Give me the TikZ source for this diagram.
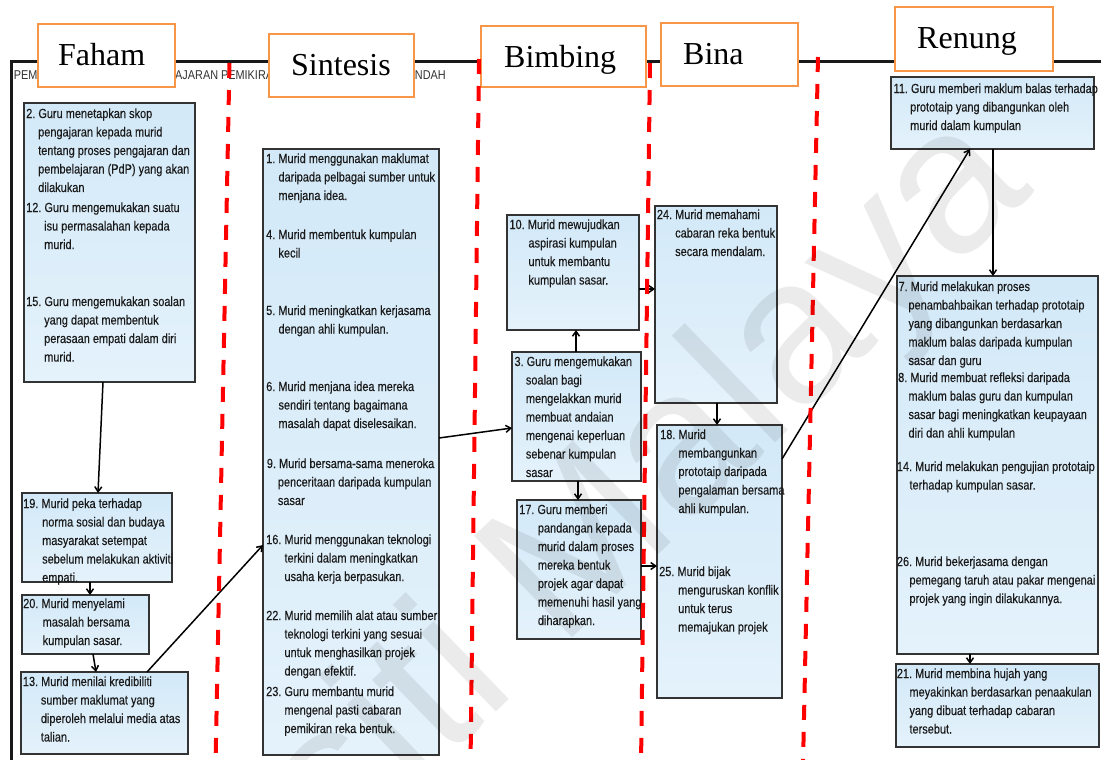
\documentclass[tikz,border=0pt]{standalone}
\usepackage{fontspec}
\usepackage{array}
\newfontfamily\bodyf[FakeStretch=0.83,FakeBold=0.3]{Liberation Sans}
\newfontfamily\titlef[FakeStretch=0.85]{Liberation Sans}
\newfontfamily\wmf{Liberation Sans}
\newfontfamily\labf{Liberation Serif}
\usetikzlibrary{calc,arrows.meta,shadows}

\definecolor{boxline}{HTML}{333333}
\definecolor{boxtop}{HTML}{D3E9F8}
\definecolor{boxbot}{HTML}{E4F2FB}
\definecolor{labedge}{HTML}{F79646}
\definecolor{txt}{HTML}{1A1A1A}
\definecolor{dashred}{HTML}{FF0000}

% numbered item: "N. first line", the following lines hang at a fixed indent
\newlength\itmhang
\newcommand\itm[4]{\setlength\itmhang{#2pt}%
  \begin{tabular}[t]{@{}>{\hspace*{\itmhang}}l@{}}\multicolumn{1}{@{}l@{}}{#1\ #3}\\#4\end{tabular}}

\begin{document}
\begin{tikzpicture}[x=1pt,y=-1pt,
  cbox/.style={draw=boxline, line width=1.4pt, top color=boxtop, bottom color=boxbot,
    inner sep=0pt, outer sep=0pt, anchor=north west,
    drop shadow={shadow xshift=1.4pt, shadow yshift=-1.4pt, opacity=0.45}},
  itext/.style={anchor=base west, inner sep=0pt, text=txt,
    font=\bodyf\fontsize{13.2}{18.5}\selectfont},
  ttl/.style={anchor=base west, inner sep=0pt, text=black!80,
    font=\titlef\fontsize{12.8}{14}\selectfont},
  lab/.style={draw=labedge, line width=2.4pt, fill=white, inner sep=0pt,
    outer sep=0pt, anchor=north west},
  labtxt/.style={anchor=base west, inner sep=0pt, font=\labf\fontsize{32}{36}\selectfont},
  conn/.style={draw=black, line width=1.5pt, -{Straight Barb[length=5pt,width=7pt]}},
  rdash/.style={draw=dashred, line width=4pt, dash pattern=on 15pt off 12pt},
  frame/.style={draw=black!90, line width=3pt},
  wm/.style={anchor=base west, inner sep=0pt, rotate=44, text=black, text opacity=0.08,
    font=\wmf\fontsize{205}{215}\selectfont}]

\useasboundingbox (0,0) rectangle (1101,760);
\clip (0,0) rectangle (1101,760);
\fill[white] (0,0) rectangle (1101,760);

% outer frame of the map
\draw[frame] (1110,62) -- (11,62) -- (11,770);

% title strip
\node[ttl] (ttlA) at (13.6,80) {PEM};
\node[ttl] (ttlB) at (175,80) {AJARAN PEMIKIRAN};
\node[ttl, anchor=base east] (ttlC) at (446,80) {ENDAH};

% phase labels
\node[lab, minimum width=137pt, minimum height=63pt] (lFaham) at (38,24) {};
\node[labtxt] (tFaham) at (58,66) {Faham};
\node[lab, minimum width=145pt, minimum height=63pt] (lSintesis) at (269,34) {};
\node[labtxt] (tSintesis) at (291,76) {Sintesis};
\node[lab, minimum width=165pt, minimum height=61pt] (lBimbing) at (481,26) {};
\node[labtxt] (tBimbing) at (504,67) {Bimbing};
\node[lab, minimum width=137pt, minimum height=63pt] (lBina) at (661,23) {};
\node[labtxt] (tBina) at (683,65) {Bina};
\node[lab, minimum width=158pt, minimum height=64pt] (lRenung) at (895,7) {};
\node[labtxt] (tRenung) at (917,49) {Renung};

% step boxes
\node[cbox, minimum width=171pt, minimum height=279pt] (A) at (24,103) {};
\node[cbox, minimum width=150pt, minimum height=89pt]  (B) at (22,493) {};
\node[cbox, minimum width=127pt, minimum height=59pt]  (C) at (22,595) {};
\node[cbox, minimum width=167pt, minimum height=82pt]  (D) at (21,672) {};
\node[cbox, minimum width=176pt, minimum height=606pt] (E) at (263,149) {};
\node[cbox, minimum width=132pt, minimum height=115pt] (F) at (507,215) {};
\node[cbox, minimum width=129pt, minimum height=129pt] (G) at (512,352) {};
\node[cbox, minimum width=124pt, minimum height=139pt] (J) at (517,500) {};
\node[cbox, minimum width=122pt, minimum height=197pt] (H) at (655,206) {};
\node[cbox, minimum width=125pt, minimum height=273pt] (I) at (657,425) {};
\node[cbox, minimum width=203pt, minimum height=72pt]  (K) at (891,77) {};
\node[cbox, minimum width=201pt, minimum height=378pt] (L) at (897,276) {};
\node[cbox, minimum width=203pt, minimum height=83pt]  (M) at (896,664) {};

% Faham
\node[itext] (s2) at (26,118) {\itm{2.}{12}{Guru menetapkan skop}{pengajaran kepada murid\\tentang proses pengajaran dan\\pembelajaran (PdP) yang akan\\dilakukan}};
\node[itext] (s12) at (26,212) {\itm{12.}{18}{Guru mengemukakan suatu}{isu permasalahan kepada\\murid.}};
\node[itext] (s15) at (26,306) {\itm{15.}{18}{Guru mengemukakan soalan}{yang dapat membentuk\\perasaan empati dalam diri\\murid.}};
\node[itext] (s19) at (23,508) {\itm{19.}{19}{Murid peka terhadap}{norma sosial dan budaya\\masyarakat setempat\\sebelum melakukan aktiviti\\empati.}};
\node[itext] (s20) at (23,608) {\itm{20.}{19.5}{Murid menyelami}{masalah bersama\\kumpulan sasar.}};
\node[itext] (s13) at (22.7,686) {\itm{13.}{18}{Murid menilai kredibiliti}{sumber maklumat yang\\diperoleh melalui media atas\\talian.}};

% Sintesis
\node[itext] (s1) at (266,163) {\itm{1.}{12.3}{Murid menggunakan maklumat}{daripada pelbagai sumber untuk\\menjana idea.}};
\node[itext] (s4) at (266,239) {\itm{4.}{12.3}{Murid membentuk kumpulan}{kecil}};
\node[itext] (s5) at (266,315) {\itm{5.}{12.3}{Murid meningkatkan kerjasama}{dengan ahli kumpulan.}};
\node[itext] (s6) at (266,391) {\itm{6.}{12.3}{Murid menjana idea mereka}{sendiri tentang bagaimana\\masalah dapat diselesaikan.}};
\node[itext] (s9) at (266.7,468) {\itm{9.}{11}{Murid bersama-sama meneroka}{penceritaan daripada kumpulan\\sasar}};
\node[itext] (s16) at (266,544) {\itm{16.}{18.3}{Murid menggunakan teknologi}{terkini dalam meningkatkan\\usaha kerja berpasukan.}};
\node[itext] (s22) at (266,620) {\itm{22.}{18.3}{Murid memilih alat atau sumber}{teknologi terkini yang sesuai\\untuk menghasilkan projek\\dengan efektif.}};
\node[itext] (s23) at (266,696) {\itm{23.}{18.3}{Guru membantu murid}{mengenal pasti cabaran\\pemikiran reka bentuk.}};

% Bimbing
\node[itext] (s10) at (509.3,229) {\itm{10.}{19}{Murid mewujudkan}{aspirasi kumpulan\\untuk membantu\\kumpulan sasar.}};
\node[itext] (s3) at (514.3,366) {\itm{3.}{11.4}{Guru mengemukakan}{soalan bagi\\mengelakkan murid\\membuat andaian\\mengenai keperluan\\sebenar kumpulan\\sasar}};
\node[itext] (s17) at (519,514) {\itm{17.}{18.7}{Guru memberi}{pandangan kepada\\murid dalam proses\\mereka bentuk\\projek agar dapat\\memenuhi hasil yang\\diharapkan.}};

% Bina
\node[itext] (s24) at (656.7,219) {\itm{24.}{18.3}{Murid memahami}{cabaran reka bentuk\\secara mendalam.}};
\node[itext] (s18) at (660,439) {\itm{18.}{18.3}{Murid}{membangunkan\\prototaip daripada\\pengalaman bersama\\ahli kumpulan.}};
\node[itext] (s25) at (659,576) {\itm{25.}{19}{Murid bijak}{menguruskan konflik\\untuk terus\\memajukan projek}};

% Renung
\node[itext] (s11) at (893.3,93) {\itm{11.}{16.7}{Guru memberi maklum balas terhadap}{prototaip yang dibangunkan oleh\\murid dalam kumpulan}};
\node[itext] (s7) at (898.3,291) {\itm{7.}{10}{Murid melakukan proses}{penambahbaikan terhadap prototaip\\yang dibangunkan berdasarkan\\maklum balas daripada kumpulan\\sasar dan guru}};
\node[itext] (s8) at (898,382) {\itm{8.}{10.3}{Murid membuat refleksi daripada}{maklum balas guru dan kumpulan\\sasar bagi meningkatkan keupayaan\\diri dan ahli kumpulan}};
\node[itext] (s14) at (896.7,471) {\itm{14.}{12.6}{Murid melakukan pengujian prototaip}{terhadap kumpulan sasar.}};
\node[itext] (s26) at (896.7,566) {\itm{26.}{12.6}{Murid bekerjasama dengan}{pemegang taruh atau pakar mengenai\\projek yang ingin dilakukannya.}};
\node[itext] (s21) at (896.7,678) {\itm{21.}{12.6}{Murid membina hujah yang}{meyakinkan berdasarkan penaakulan\\yang dibuat terhadap cabaran\\tersebut.}};

% connectors
\draw[conn] ($(A.south west)+(79,0)$) -- ($(B.north west)+(76,0)$);
\draw[conn] ($(B.south west)+(68,0)$) -- ($(C.north west)+(68,0)$);
\draw[conn] ($(C.south west)+(71,0)$) -- ($(D.north west)+(75,0)$);
\draw[conn] ($(D.north west)+(126,0)$) -- ($(E.north west)+(0,396)$);
\draw[conn] ($(E.north east)+(0,289)$) -- ($(G.north west)+(0,76)$);
\draw[conn] ($(G.north west)+(64,0)$) -- ($(F.south west)+(69,0)$);
\draw[conn] ($(G.south west)+(66,0)$) -- ($(J.north west)+(61,0)$);
\draw[conn] ($(F.north east)+(0,74)$) -- ($(H.north west)+(0,83)$);
\draw[conn] ($(J.north east)+(0,66)$) -- ($(I.north west)+(0,141)$);
\draw[conn] ($(H.south west)+(62,0)$) -- ($(I.north west)+(60,0)$);
\draw[conn] ($(I.north east)+(0,34)$) -- ($(K.south west)+(79,0)$);
\draw[conn] ($(K.south west)+(102,0)$) -- ($(L.north west)+(96,0)$);
\draw[conn] ($(L.south west)+(73,0)$) -- ($(M.north west)+(74,0)$);

% phase dividers
\coordinate (r1t) at (229.5,63);  \coordinate (r1b) at (215.5,765);
\coordinate (r2t) at (479,59);    \coordinate (r2b) at (470.5,765);
\coordinate (r3t) at (650,63);    \coordinate (r3b) at (641,765);
\coordinate (r4t) at (818,57);    \coordinate (r4b) at (803,765);
\draw[rdash] (r1t) -- (r1b);
\draw[rdash] (r2t) -- (r2b);
\draw[rdash] (r3t) -- (r3b);
\draw[rdash] (r4t) -- (r4b);

% repository watermark
\node[wm] (wmark) at (-87,1275) {Universiti Malaya};
\end{tikzpicture}
\end{document}
